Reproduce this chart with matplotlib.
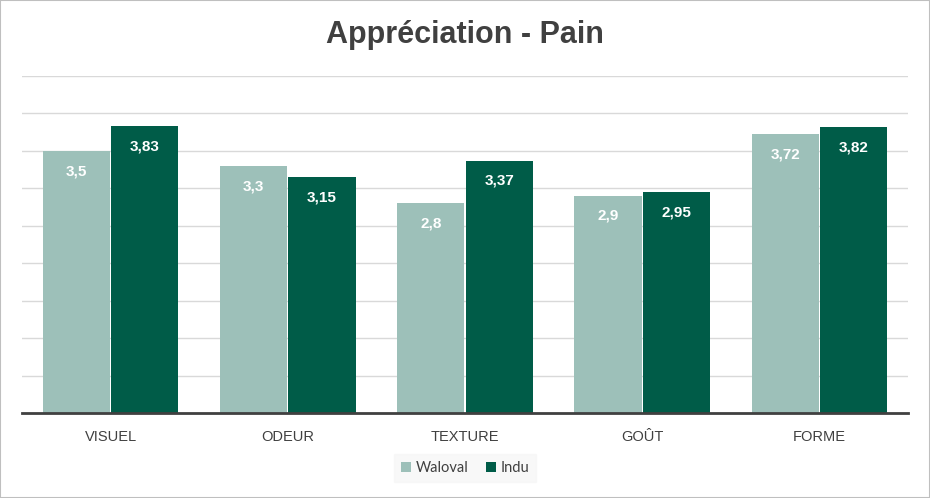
import matplotlib.pyplot as plt
import numpy as np
from matplotlib.patches import Rectangle

categories = ["VISUEL", "ODEUR", "TEXTURE", "GOÛT", "FORME"]
waloval = [3.5, 3.3, 2.8, 2.9, 3.72]
indu = [3.83, 3.15, 3.37, 2.95, 3.82]
series_names = ["Waloval", "Indu"]

light = "#9dc0b9"
dark = "#005c48"
text_col = "#404040"

fig = plt.figure(figsize=(9.3, 4.98), dpi=100)
ax = fig.add_axes([22 / 930, 1 - 413 / 498, 886 / 930, 337 / 498])

x = np.arange(len(categories))
w = 0.38
b1 = ax.bar(x - w / 2 - 0.003, waloval, w, color=light, label=series_names[0], zorder=3)
b2 = ax.bar(x + w / 2 + 0.003, indu, w, color=dark, label=series_names[1], zorder=3)


def fmt(v):
    return ("%g" % v).replace(".", ",")


for bars, vals in [(b1, waloval), (b2, indu)]:
    for r, v in zip(bars, vals):
        ax.annotate(fmt(v), (r.get_x() + r.get_width() / 2, v), xytext=(0, -14.5),
                    textcoords="offset points", ha="center", va="center",
                    color="white", fontsize=11, fontweight="bold",
                    family="Liberation Sans", zorder=4)

ax.set_xlim(-0.5, len(categories) - 0.5)
ax.set_ylim(0, 4.5)
ax.set_yticks(np.arange(0.5, 4.51, 0.5))
ax.yaxis.grid(True, color="#d9d9d9", linewidth=1, zorder=0)
ax.tick_params(axis="y", left=False, labelleft=False)
ax.tick_params(axis="x", length=0, pad=12, labelsize=10.5, labelcolor=text_col)
ax.set_xticks(x)
ax.set_xticklabels(categories, family="Liberation Sans")
for s in ["top", "right", "left"]:
    ax.spines[s].set_visible(False)
ax.spines["bottom"].set_color(text_col)
ax.spines["bottom"].set_linewidth(2)
ax.spines["bottom"].set_zorder(5)

fig.text(0.5, 1 - 35 / 498, "Appréciation - Pain", ha="center", va="center",
         fontsize=22, fontweight="bold", color=text_col,
         family=["Liberation Sans Narrow", "Liberation Sans"])

leg = fig.legend(loc="center", bbox_to_anchor=(465 / 930, 1 - 468 / 498), ncol=2,
                 frameon=True, fancybox=False, handlelength=0.7, handleheight=0.7,
                 handletextpad=0.3, columnspacing=1.2, borderpad=0.5,
                 prop={"family": "Lato", "size": 10.5})
leg.get_frame().set_facecolor("#f7f7f7")
leg.get_frame().set_edgecolor("#f7f7f7")
for t in leg.get_texts():
    t.set_color(text_col)

fig.patches.append(Rectangle((0, 0), 1, 1, transform=fig.transFigure, fill=False,
                             edgecolor="#bfbfbf", linewidth=1.5))

fig.savefig("out.png", dpi=100)
